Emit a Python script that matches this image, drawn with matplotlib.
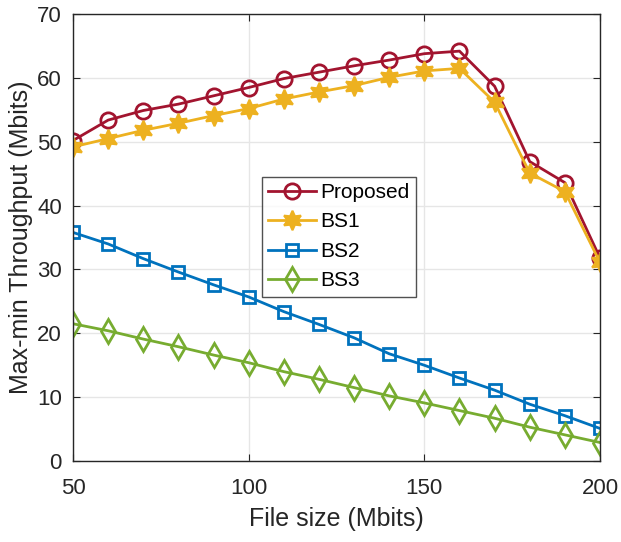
import numpy as np
import matplotlib
matplotlib.use("Agg")
import matplotlib.pyplot as plt

plt.rcParams['font.family'] = ['Liberation Sans', 'DejaVu Sans']

# data
file_size = [50, 60, 70, 80, 90, 100, 110, 120, 130, 140, 150, 160, 170, 180, 190, 200]
proposed = [50.2, 53.4, 54.9, 55.9, 57.2, 58.5, 59.9, 60.9, 61.9, 62.8, 63.8, 64.2, 58.7, 46.9, 43.6, 31.8]
bs1 = [49.2, 50.5, 51.8, 52.9, 54.1, 55.2, 56.7, 57.8, 58.8, 60.1, 61.1, 61.5, 56.2, 45.1, 42.2, 31.1]
bs2 = [35.8, 34.0, 31.7, 29.6, 27.6, 25.7, 23.4, 21.4, 19.3, 16.8, 15.0, 13.0, 11.1, 8.9, 7.1, 5.1]
bs3 = [21.5, 20.4, 19.1, 17.9, 16.6, 15.4, 14.0, 12.8, 11.5, 10.2, 9.1, 7.9, 6.7, 5.3, 4.1, 2.9]

c_prop = (0.635, 0.078, 0.184)
c_bs1 = (0.929, 0.694, 0.125)
c_bs2 = (0.0, 0.447, 0.741)
c_bs3 = (0.466, 0.674, 0.188)

fig = plt.figure(figsize=(6.21, 5.42), dpi=100)
ax = fig.add_axes([0.1176, 0.1494, 0.8486, 0.8246])

ax.plot(file_size, proposed, '-', color=c_prop, lw=2, marker='o', ms=11,
        mfc='none', mec=c_prop, mew=2, label='Proposed')
ax.plot(file_size, bs1, '-', color=c_bs1, lw=2, marker=(6, 1, 0), ms=14,
        mfc=c_bs1, mec=c_bs1, mew=1.5, label='BS1')
ax.plot(file_size, bs2, '-', color=c_bs2, lw=2, marker='s', ms=8,
        mfc='none', mec=c_bs2, mew=2, label='BS2')
ax.plot(file_size, bs3, '-', color=c_bs3, lw=2, marker='d', ms=12,
        mfc='none', mec=c_bs3, mew=2, label='BS3')

ax.set_xlim(50, 200)
ax.set_ylim(0, 70)
ax.set_xticks([50, 100, 150, 200])
ax.set_yticks(range(0, 71, 10))
ax.tick_params(direction='in', top=True, right=True, labelsize=16, length=5,
               color='#262626', labelcolor='#262626')
ax.tick_params(axis='x', pad=12)
ax.tick_params(axis='y', pad=8)
ax.grid(True, color='#e6e6e6', lw=1)
ax.set_axisbelow(True)
for s in ax.spines.values():
    s.set_color('#262626')
    s.set_linewidth(1)

ax.set_xlabel('File size (Mbits)', fontsize=18, color='#262626', labelpad=6)
ax.set_ylabel('Max-min Throughput (Mbits)', fontsize=18, color='#262626', labelpad=3)

leg = ax.legend(loc='upper left', bbox_to_anchor=(0.358, 0.636), fontsize=15,
                frameon=True, fancybox=False, edgecolor='#262626',
                handlelength=2.3, borderpad=0.3, labelspacing=0.5,
                handletextpad=0.2, borderaxespad=0)
leg.get_frame().set_linewidth(1)

fig.savefig('out.png', dpi=100)
